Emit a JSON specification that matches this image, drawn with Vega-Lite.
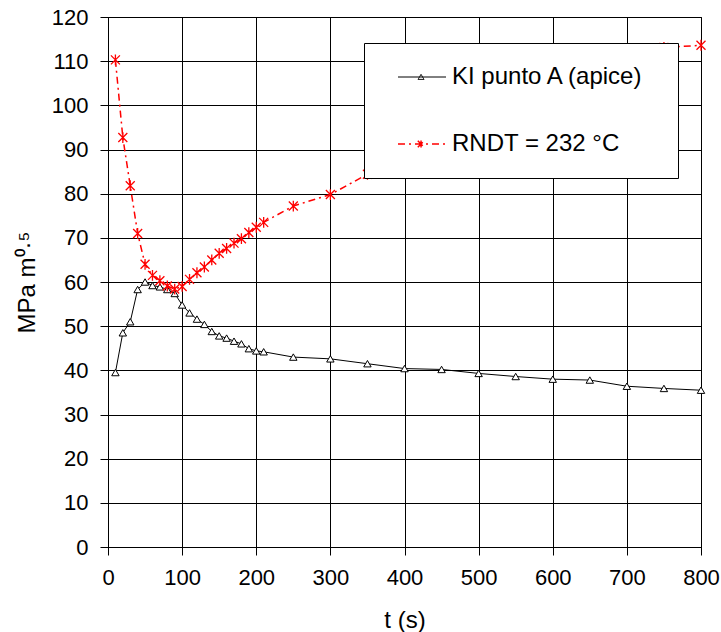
{
  "$schema": "https://vega.github.io/schema/vega-lite/v6.json",
  "width": 593,
  "height": 530,
  "autosize": {"type": "none"},
  "padding": {"left": 108, "top": 17, "right": 20, "bottom": 85},
  "background": "white",
  "config": {
    "view": {"stroke": "black", "strokeWidth": 1},
    "axis": {
      "labelFont": "Liberation Sans", "titleFont": "Liberation Sans",
      "labelFontSize": 22, "titleFontSize": 24, "titleFontWeight": "normal",
      "labelColor": "black", "titleColor": "black",
      "domainColor": "black", "tickColor": "black", "gridColor": "black", "gridOpacity": 1,
      "tickSize": 8, "domainWidth": 1, "gridWidth": 1, "tickWidth": 1
    }
  },
  "datasets": {
    "ki": [
      {"t": 10, "v": 39.5}, {"t": 20, "v": 48.5}, {"t": 30, "v": 51.0}, {"t": 40, "v": 58.3},
      {"t": 50, "v": 60.0}, {"t": 60, "v": 59.2}, {"t": 70, "v": 58.9}, {"t": 80, "v": 58.3},
      {"t": 90, "v": 57.4}, {"t": 100, "v": 54.8}, {"t": 110, "v": 53.0}, {"t": 120, "v": 51.6},
      {"t": 130, "v": 50.4}, {"t": 140, "v": 48.8}, {"t": 150, "v": 47.8}, {"t": 160, "v": 47.3},
      {"t": 170, "v": 46.6}, {"t": 180, "v": 46.0}, {"t": 190, "v": 44.9}, {"t": 200, "v": 44.4},
      {"t": 210, "v": 44.2}, {"t": 250, "v": 43.0}, {"t": 300, "v": 42.6}, {"t": 350, "v": 41.5},
      {"t": 400, "v": 40.4}, {"t": 450, "v": 40.2}, {"t": 500, "v": 39.3}, {"t": 550, "v": 38.6},
      {"t": 600, "v": 38.0}, {"t": 650, "v": 37.8}, {"t": 700, "v": 36.4}, {"t": 750, "v": 35.9},
      {"t": 800, "v": 35.5}
    ],
    "rndt": [
      {"t": 10, "v": 110.3}, {"t": 20, "v": 92.7}, {"t": 30, "v": 81.8}, {"t": 40, "v": 71.0},
      {"t": 50, "v": 64.0}, {"t": 60, "v": 61.5}, {"t": 70, "v": 60.3}, {"t": 80, "v": 59.1},
      {"t": 90, "v": 58.4}, {"t": 100, "v": 59.0}, {"t": 110, "v": 60.6}, {"t": 120, "v": 62.1},
      {"t": 130, "v": 63.4}, {"t": 140, "v": 65.0}, {"t": 150, "v": 66.5}, {"t": 160, "v": 67.6},
      {"t": 170, "v": 68.8}, {"t": 180, "v": 69.8}, {"t": 190, "v": 71.2}, {"t": 200, "v": 72.4},
      {"t": 210, "v": 73.5}, {"t": 250, "v": 77.2}, {"t": 300, "v": 79.8}, {"t": 350, "v": 84.4},
      {"t": 400, "v": 88.5}, {"t": 450, "v": 92.5}, {"t": 500, "v": 96.5}, {"t": 550, "v": 100.3},
      {"t": 600, "v": 104.0}, {"t": 650, "v": 107.5}, {"t": 700, "v": 110.8}, {"t": 750, "v": 113.1},
      {"t": 800, "v": 113.6}
    ]
  },
  "encoding": {
    "x": {
      "field": "t", "type": "quantitative",
      "scale": {"domain": [0, 800], "nice": false},
      "axis": {"values": [0, 100, 200, 300, 400, 500, 600, 700, 800], "title": "t (s)", "labelPadding": 12, "titlePadding": 20, "labelFlush": false}
    },
    "y": {
      "field": "v", "type": "quantitative",
      "scale": {"domain": [0, 120], "nice": false},
      "axis": {"values": [0, 10, 20, 30, 40, 50, 60, 70, 80, 90, 100, 110, 120], "title": "MPa m⁰·⁵", "labelPadding": 12, "titlePadding": 12, "labelFlush": false}
    }
  },
  "layer": [
    {
      "data": {"name": "ki"},
      "transform": [{"calculate": "'KI punto A (apice)'", "as": "s"}],
      "mark": {"type": "line", "strokeWidth": 1},
      "encoding": {
        "color": {
          "field": "s", "type": "nominal",
          "scale": {"domain": ["KI punto A (apice)", "RNDT = 232 °C"], "range": ["#000000", "#ff0000"]},
          "legend": {
            "orient": "none", "legendX": 256, "legendY": 26, "title": null,
            "padding": 22, "fillColor": "white", "strokeColor": "black",
            "labelFont": "Liberation Sans", "labelFontSize": 24, "labelColor": "black", "labelLimit": 400,
            "symbolSize": 576, "rowPadding": 43, "labelOffset": 42,
            "encode": {
              "symbols": {
                "update": {
                  "shape": {"signal": "datum.index === 0 ? 'M0,0H4M1.92,-0.22L2.17,0.2H1.67ZM21.25,0' : 'M0,0H4M1.65,-0.27L2.19,0.27M1.65,0.27L2.19,-0.27M1.92,-0.3V0.3M21.25,0'"},
                  "strokeDash": {"signal": "datum.index === 0 ? [1,0] : [7,4,2,4]"},
                  "strokeWidth": {"signal": "datum.index === 0 ? 1 : 1.5"},
                  "fill": {"value": "white"},
                  "fillOpacity": {"value": 1}
                }
              }
            }
          }
        }
      }
    },
    {
      "data": {"name": "ki"},
      "mark": {"type": "point", "shape": "triangle-up", "size": 55, "filled": true, "fill": "white", "stroke": "black", "strokeWidth": 1, "opacity": 1}
    },
    {
      "data": {"name": "rndt"},
      "transform": [{"calculate": "'RNDT = 232 °C'", "as": "s"}],
      "mark": {"type": "line", "strokeWidth": 1.5, "strokeDash": [7, 4, 2, 4]},
      "encoding": {
        "color": {"field": "s", "type": "nominal", "scale": {"domain": ["KI punto A (apice)", "RNDT = 232 °C"], "range": ["#000000", "#ff0000"]}}
      }
    },
    {
      "data": {"name": "rndt"},
      "mark": {"type": "point", "shape": "M-1,-1L1,1M-1,1L1,-1M0,-1.2V1.2", "size": 81, "filled": false, "stroke": "#ff0000", "strokeWidth": 1.3, "opacity": 1}
    }
  ]
}
